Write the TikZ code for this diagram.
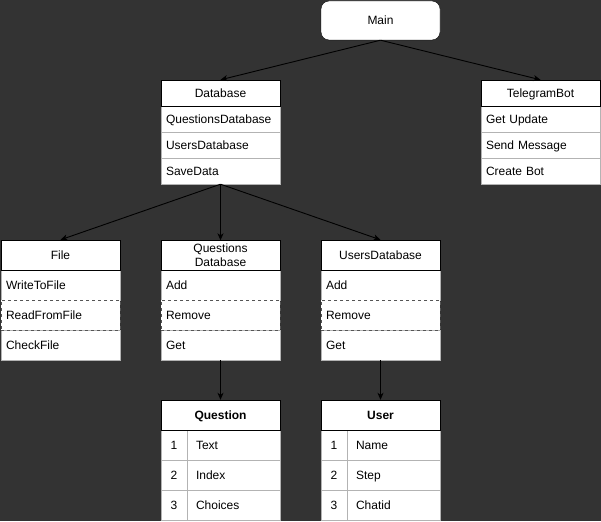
\documentclass[tikz,border=0pt]{standalone}
\usepackage{fontspec}
\setmainfont{Liberation Sans}
\usetikzlibrary{arrows.meta}
\definecolor{bgc}{HTML}{333333}
\definecolor{rowline}{HTML}{B3B3B3}
\definecolor{dashline}{HTML}{555555}
\begin{document}
\begin{tikzpicture}[x=1pt,y=-1pt,
  every node/.style={font=\fontsize{12}{13.5}\selectfont, text=black},
  fixh/.style={text height=9.8pt, text depth=1.6pt},
  hdr/.style={draw=black, fill=white, minimum width=119pt, inner sep=0pt, align=center},
  hdrA/.style={hdr, fixh, minimum height=26pt},
  hdrB/.style={hdr, minimum height=30pt},
  rowbox/.style={draw=rowline, fill=white, fixh, minimum width=119pt, text width=109pt, align=left, inner sep=0pt},
  rowA/.style={rowbox, minimum height=26pt},
  rowB/.style={rowbox, minimum height=30pt},
  dashrow/.style={rowB, draw=dashline, dashed},
  numcell/.style={draw=rowline, fill=white, fixh, minimum width=26pt, minimum height=30pt, inner sep=0pt},
  txtcell/.style={draw=rowline, fill=white, fixh, minimum width=93pt, text width=75pt, minimum height=30pt, align=left, inner sep=0pt},
  mainbox/.style={draw=black, fill=white, fixh, rounded corners=8pt, minimum width=119pt, minimum height=39pt},
  arr/.style={draw=black, line width=0.9pt, -{Stealth[length=7pt,width=6pt,inset=2pt]}}
]
\useasboundingbox (0,0) rectangle (601,521);
\clip (0,0) rectangle (601,521);
\fill[bgc] (0,0) rectangle (601,521);

% Main
\node[mainbox] (main) at (380.5,20.5) {Main};

% Database
\node[rowA] (db1) at (220.5,119) {QuestionsDatabase};
\node[rowA] (db2) at (220.5,145) {UsersDatabase};
\node[rowA] (db3) at (220.5,171) {SaveData};
\node[hdrA] (db) at (220.5,93) {Database};

% TelegramBot
\node[rowA] (tg1) at (540.5,119) {Get Update};
\node[rowA] (tg2) at (540.5,145) {Send Message};
\node[rowA] (tg3) at (540.5,171) {Create Bot};
\node[hdrA] (tg) at (540.5,93) {TelegramBot};

% File
\node[rowB] (f1) at (60.5,285) {WriteToFile};
\node[rowB] (f3) at (60.5,345) {CheckFile};
\node[dashrow] (f2) at (60.5,315) {ReadFromFile};
\node[hdrB, fixh] (file) at (60.5,255) {File};

% Questions Database
\node[rowB] (q1) at (220.5,285) {Add};
\node[rowB] (q3) at (220.5,345) {Get};
\node[dashrow] (q2) at (220.5,315) {Remove};
\node[hdrB] (qd) at (220.5,255.5) {Questions\\[0.5pt]Database};

% Users Database
\node[rowB] (u1) at (380.5,285) {Add};
\node[rowB] (u3) at (380.5,345) {Get};
\node[dashrow] (u2) at (380.5,315) {Remove};
\node[hdrB, fixh] (ud) at (380.5,255) {UsersDatabase};

% Question table
\node[numcell] (qn1) at (174,445) {1};
\node[txtcell] (qt1) at (233.5,445) {Text};
\node[numcell] (qn2) at (174,475) {2};
\node[txtcell] (qt2) at (233.5,475) {Index};
\node[numcell] (qn3) at (174,505) {3};
\node[txtcell] (qt3) at (233.5,505) {Choices};
\node[hdrB, fixh, font=\fontsize{12}{13.5}\selectfont\bfseries] (question) at (220.5,415) {Question};

% User table
\node[numcell] (un1) at (334,445) {1};
\node[txtcell] (ut1) at (393.5,445) {Name};
\node[numcell] (un2) at (334,475) {2};
\node[txtcell] (ut2) at (393.5,475) {Step};
\node[numcell] (un3) at (334,505) {3};
\node[txtcell] (ut3) at (393.5,505) {Chatid};
\node[hdrB, fixh, font=\fontsize{12}{13.5}\selectfont\bfseries] (user) at (380.5,415) {User};

% Connectors
\draw[arr] (main.south) -- (db.north);
\draw[arr] (main.south) -- (tg.north);
\draw[arr] (db3.south) -- (file.north);
\draw[arr] (db3.south) -- (qd.north);
\draw[arr] (db3.south) -- (ud.north);
\draw[arr] (q3.south) -- (question.north);
\draw[arr] (u3.south) -- (user.north);
\end{tikzpicture}
\end{document}
